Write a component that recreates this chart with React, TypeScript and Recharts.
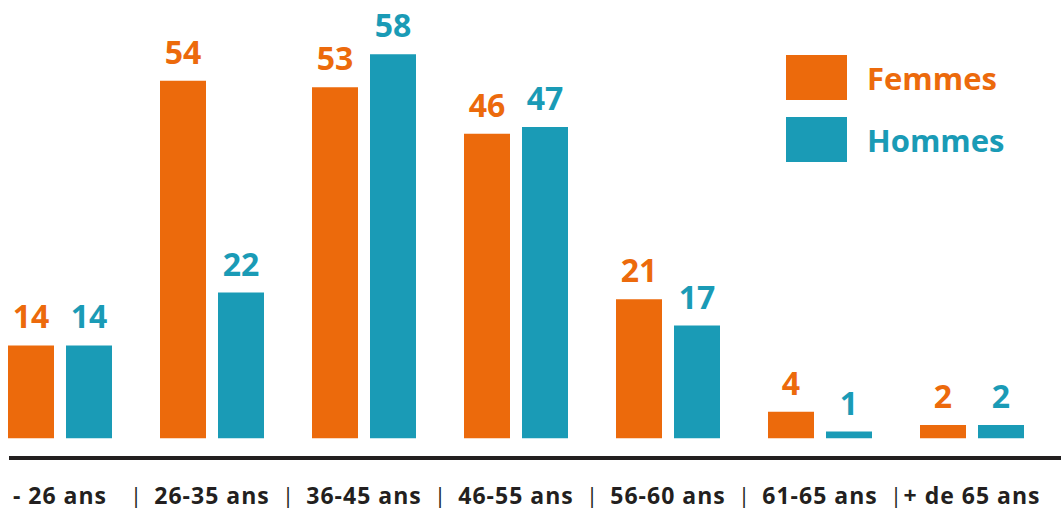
import { BarChart, Bar, XAxis, YAxis, LabelList, Legend } from "recharts"

const ORANGE = "#EC6A0C"
const TEAL = "#1A9BB6"
const INK = "#231F20"
const FONT = "'Open Sans', sans-serif"

const ageGroups = ["- 26 ans", "26-35 ans", "36-45 ans", "46-55 ans", "56-60 ans", "61-65 ans", "+ de 65 ans"]
const femmes = [14, 54, 53, 46, 21, 4, 2]
const hommes = [14, 22, 58, 47, 17, 1, 2]

const series = [
  { key: "femmes", name: "Femmes", color: ORANGE },
  { key: "hommes", name: "Hommes", color: TEAL },
]

const data = ageGroups.map((tranche, i) => ({ tranche, femmes: femmes[i], hommes: hommes[i] }))

const W = 1061
const H = 518
const PAD_LEFT = -25
const PAD_RIGHT = 13
const BAND = (W - 9 - PAD_LEFT - PAD_RIGHT) / ageGroups.length

function AgeTick(props: any) {
  const { x, y, payload, index } = props
  return (
    <g>
      <text
        x={x}
        y={y}
        dy={38}
        textAnchor="middle"
        fill={INK}
        style={{ fontFamily: FONT, fontWeight: 700, fontSize: 23, letterSpacing: 1 }}
      >
        {payload.value}
      </text>
      {index < ageGroups.length - 1 && (
        <text
          x={x + BAND / 2}
          y={y}
          dy={37}
          textAnchor="middle"
          fill={INK}
          style={{ fontFamily: FONT, fontWeight: 400, fontSize: 22 }}
        >
          |
        </text>
      )}
    </g>
  )
}

function LegendBox() {
  return (
    <div style={{ display: "flex", flexDirection: "column", gap: 17 }}>
      {series.map((s) => (
        <div key={s.key} style={{ display: "flex", alignItems: "center", height: 45 }}>
          <span style={{ width: 61, height: 45, background: s.color, display: "inline-block" }} />
          <span style={{ marginLeft: 20, color: s.color, fontFamily: FONT, fontWeight: 700, fontSize: 31 }}>
            {s.name}
          </span>
        </div>
      ))}
    </div>
  )
}

export default function App() {
  return (
    <div style={{ position: "absolute", left: 0, top: 0, width: W, height: H, overflow: "hidden", background: "#fff" }}>
      <BarChart width={W} height={H} data={data} margin={{ top: 41, right: 0, left: 9, bottom: 0 }} barSize={46} barGap={12}>
        <XAxis
          dataKey="tranche"
          height={60}
          interval={0}
          padding={{ left: PAD_LEFT, right: PAD_RIGHT }}
          axisLine={{ stroke: INK, strokeWidth: 4 }}
          tickLine={false}
          tick={<AgeTick />}
        />
        <YAxis hide domain={[-3, 60]} width={0} />
        <Legend
          layout="vertical"
          align="center"
          verticalAlign="middle"
          content={() => <LegendBox />}
          wrapperStyle={{ top: 55, left: 786, width: "auto" }}
        />
        {series.map((s) => (
          <Bar key={s.key} dataKey={s.key} name={s.name} fill={s.color} isAnimationActive={false}>
            <LabelList
              dataKey={s.key}
              position="top"
              offset={17}
              fill={s.color}
              fontFamily={FONT}
              fontWeight={700}
              fontSize={32}
            />
          </Bar>
        ))}
      </BarChart>
    </div>
  )
}
